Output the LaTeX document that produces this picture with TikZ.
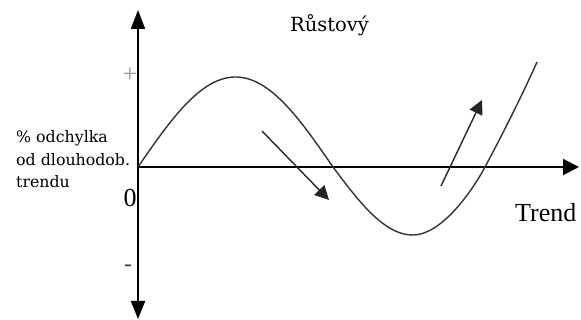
\documentclass[tikz,border=0pt]{standalone}
\usepackage{fontspec}
\setmainfont{Liberation Serif}
\newfontfamily\lblfont{DejaVu Serif}
\usetikzlibrary{arrows.meta}
\tikzset{
  axisline/.style={line width=2pt, black},
  wave/.style={line width=1.4pt, black!80},
  trendarrow/.style={line width=1.4pt, black!85, -{Triangle[length=14pt,width=14pt]}},
  lbl/.style={inner sep=0pt, font=\lblfont\fontsize{15.8}{18}\selectfont},
  big/.style={inner sep=0pt, font=\fontsize{26}{30}\selectfont},
}
\begin{document}
\begin{tikzpicture}[x=1pt,y=-1pt]
\useasboundingbox (0,0) rectangle (581,320);
% axes
\coordinate (ytop) at (138,10);
\coordinate (ybot) at (138,319);
\coordinate (o) at (138,167);
\coordinate (xend) at (579,167);
\draw[axisline, {Triangle[length=18pt,width=14pt]}-{Triangle[length=19pt,width=14pt]}] (ybot) -- (ytop);
\draw[axisline, -{Triangle[length=16pt,width=16pt]}] (o) -- (xend);
% wave
\draw[wave] plot[domain=0:180, samples=60] ({138+1.083333*\x},{167-90*sin(\x)})
  -- plot[domain=0:90, samples=30] ({333+0.888889*\x},{167+68*sin(\x)})
  .. controls (440,235) and (470,195) .. (485,167)
  .. controls (500,139) and (520,100) .. (537,62);
% trend arrows
\coordinate (a1s) at (262,131);
\coordinate (a1e) at (329,200);
\coordinate (a2s) at (441,186);
\coordinate (a2e) at (482,100);
\draw[trendarrow] (a1s) -- (a1e);
\draw[trendarrow] (a2s) -- (a2e);
% labels
\node[lbl, anchor=base, font=\lblfont\fontsize{19.5}{22}\selectfont] (title) at (329.5,32) {Růstový};
\node[big, anchor=base west] (trend) at (515,222) {Trend};
\node[big, anchor=base] (zero) at (130,207) {0};
\node[inner sep=0pt, text=black!40, font=\fontsize{26}{28}\selectfont] (plus) at (130,75) {+};
\node[inner sep=0pt, text=black!75, font=\fontsize{24}{26}\selectfont] (minus) at (128,268) {-};
\node[lbl, anchor=base west] (l1) at (16,143) {\% odchylka};
\node[lbl, anchor=base west] (l2) at (16,166) {od dlouhodob.};
\node[lbl, anchor=base west] (l3) at (16,188) {trendu};
\end{tikzpicture}
\end{document}
